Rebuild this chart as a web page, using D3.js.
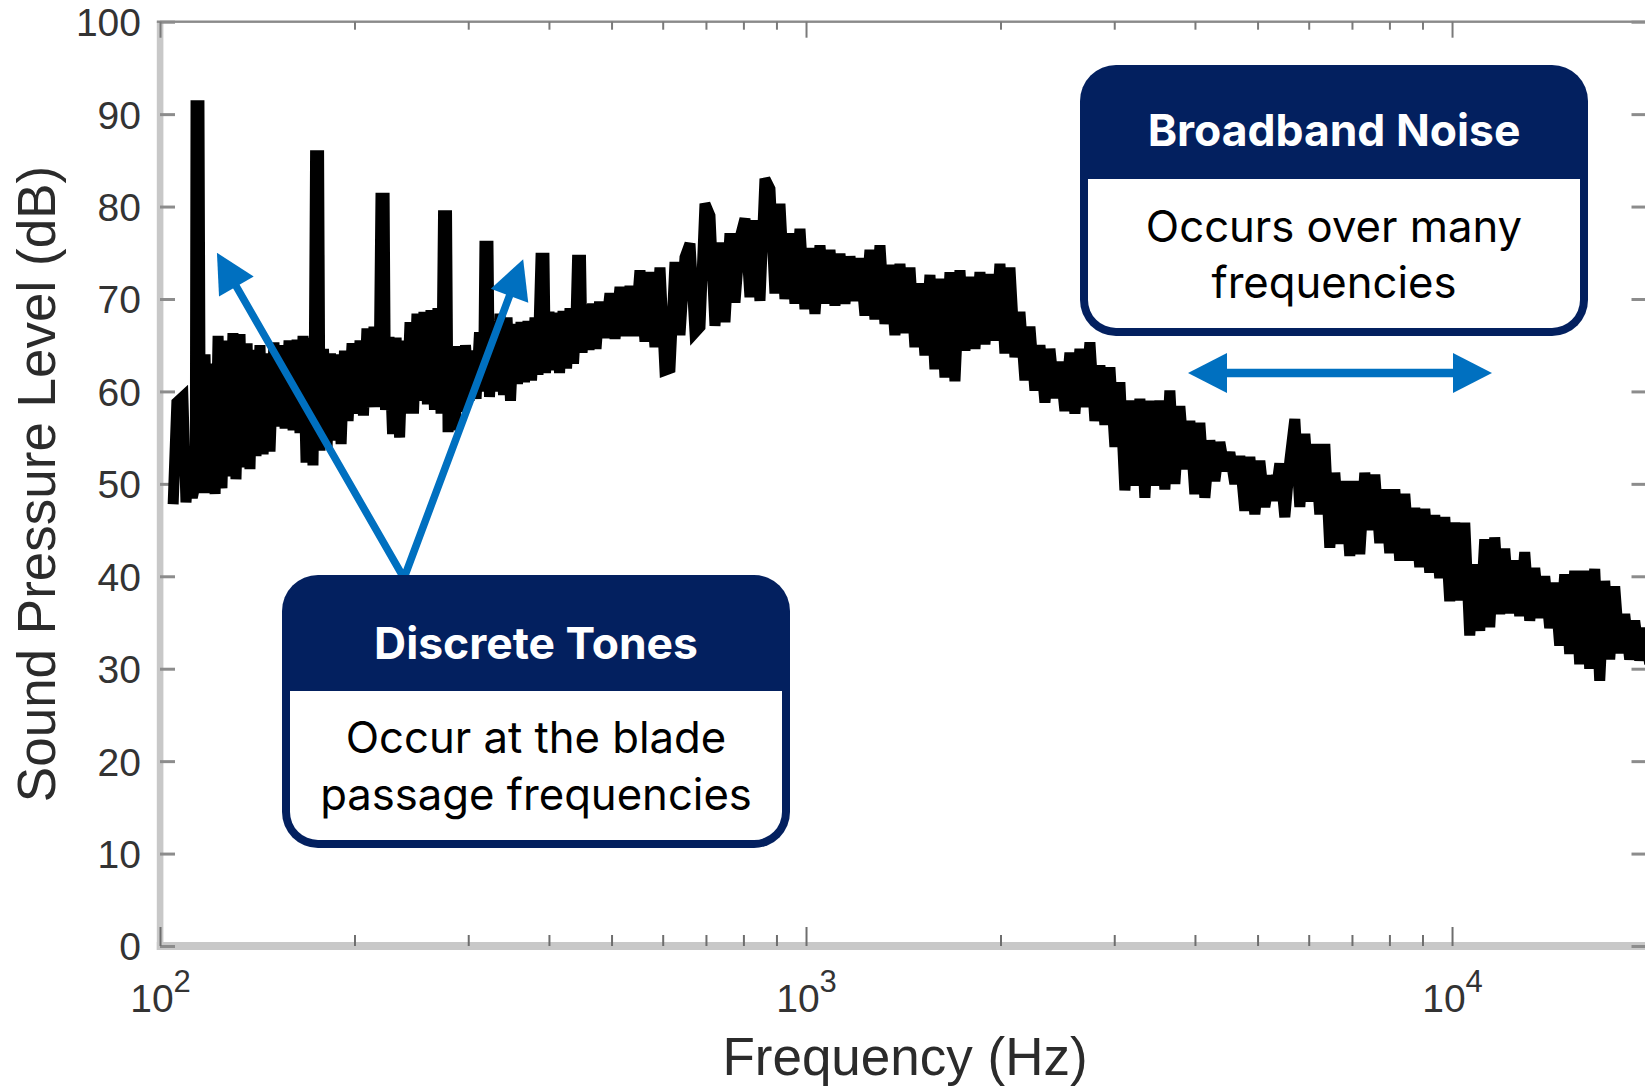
<!DOCTYPE html>
<html><head><meta charset="utf-8">
<script src="https://cdn.jsdelivr.net/npm/d3@7"></script>
<style>html,body{margin:0;padding:0;background:#fff;}svg{display:block;}</style>
</head><body>
<svg id="c" width="1645" height="1088"></svg>
<script>
// ---- data ----
const freqHz = [
104.8,106.2,108.5,109.7,111.3,112.2,113.4,113.7,114.9,115.5,
117.4,118.7,120.4,121.7,123.0,124.7,126.5,127.9,129.7,131.1,
133.0,134.4,136.4,137.8,139.3,140.8,142.8,144.4,146.4,148.0,
150.1,151.8,153.9,156.2,158.4,160.7,163.0,164.7,166.5,168.3,
170.7,172.5,173.2,174.1,176.0,176.9,179.1,181.4,183.6,185.9,
188.3,190.7,193.0,195.5,198.3,201.1,204.0,206.5,209.1,211.8,
214.4,217.1,218.7,219.8,222.3,223.4,226.2,229.1,232.0,234.9,
237.8,240.8,243.8,246.8,249.9,253.1,256.2,259.4,262.7,266.0,
269.3,272.3,273.3,274.7,277.7,279.2,282.7,286.2,289.8,293.5,
297.1,300.9,304.6,308.5,312.3,316.8,318.4,321.9,323.6,327.7,
331.8,336.0,340.2,344.5,348.8,353.2,357.6,362.1,366.6,371.2,
375.9,380.6,384.7,386.7,388.8,393.0,395.1,400.1,405.2,410.2,
415.4,420.6,425.9,431.2,436.6,440.6,442.9,447.7,450.1,455.8,
461.5,467.3,473.1,479.1,
488.4,497.2,506.2,515.3,524.5,534.0,543.6,553.3,563.3,573.4,
583.7,594.2,604.9,615.8,626.9,638.1,649.6,661.3,673.2,685.3,
697.6,710.1,722.9,735.9,749.1,762.6,776.3,790.3,804.5,818.9,
833.6,848.6,863.9,879.4,895.2,911.3,927.7,944.4,961.4,978.7,
996.3,1014.2,1032.4,1051.0,1069.9,1089.1,1108.7,1128.6,1148.9,1169.6,
1190.6,1212.0,1233.8,1256.0,1278.6,1301.6,1325.0,1348.8,1373.0,1397.7,
1422.8,1448.4,1474.4,1500.9,1527.9,1555.4,1583.4,1611.9,1640.9,1670.4,
1700.4,1731.0,1762.1,1793.8,1826.0,1858.8,1892.2,1926.2,1960.8,1996.1,
2032.0,2068.5,2105.7,2143.6,2182.1,2221.3,2261.2,2301.9,2343.3,2385.4,
2428.3,2471.9,2516.3,2561.5,2607.6,2654.5,2702.2,2750.8,2800.2,2850.5,
2901.7,2953.9,3007.0,3061.0,3116.0,3172.0,3229.0,3287.1,3346.2,3406.3,
3467.5,3529.8,3593.2,3657.8,3723.6,3790.5,3858.6,3928.0,3998.6,4070.4,
4143.6,4218.1,4293.9,4371.1,4449.6,4529.6,4611.0,4693.9,4778.3,4864.2,
4951.6,5040.6,5131.2,5223.4,5317.3,5412.9,5510.2,5609.2,5710.0,5812.6,
5917.1,6023.5,6131.8,6242.0,6354.2,6468.4,6584.6,6703.0,6823.5,6946.1,
7071.0,7198.1,7327.5,7459.2,7593.2,7729.7,7868.6,8010.1,8154.0,8300.6,
8449.8,8601.7,8756.3,8913.7,9073.9,9237.0,9403.0,9572.0,9744.1,9919.2,
10097,10279,10464,10652,10843,11038,11236,11438,11644,11853,
12066,12283,12504,12729,12958,13191,13428,13669,13915,14165,
14420,14679,14943,15211,15485,15763,16047,16335,16629,16928,
17232,17542,17857,18178,18505,18837,19176,19521,19872,20229
];
const splDb = [
47.8,58.8,59.4,48.0,54.0,48.5,50.0,90.9,90.9,49.0,
64.0,49.0,63.0,48.9,66.0,49.5,65.5,50.8,66.3,50.5,
66.2,51.8,65.2,51.6,64.5,53.0,65.0,53.2,64.1,53.5,
65.3,56.2,65.0,56.0,65.5,55.8,65.6,55.5,66.0,52.3,
65.8,52.0,60.0,85.5,85.5,53.6,64.6,54.0,64.1,54.7,
64.0,54.3,64.4,56.8,65.2,57.6,65.5,57.4,66.8,58.3,
67.0,58.3,66.0,80.9,80.9,58.0,65.9,55.4,65.8,55.0,
65.5,57.6,67.5,57.6,68.4,59.0,68.6,58.6,68.8,58.0,
69.0,57.6,64.0,79.0,79.0,55.6,64.4,55.8,64.9,57.8,
65.0,59.0,64.4,59.2,66.4,60.0,75.7,75.7,59.4,67.0,
60.0,68.4,59.6,68.0,59.0,67.3,60.8,67.5,61.0,67.6,
61.2,68.0,61.8,68.5,74.4,74.4,62.0,68.6,62.3,68.5,
62.0,68.7,62.5,69.0,63.0,68.0,74.2,74.2,64.2,69.4,
64.5,69.5,64.6,69.7,
65.8,70.6,65.7,71.3,66.0,71.4,66.0,73.1,65.4,72.9,
64.8,73.4,62.3,62.5,74.0,66.1,74.5,76.0,66.4,67.0,
80.3,79.0,67.1,76.1,67.5,77.1,69.6,76.6,78.7,70.2,
78.5,69.8,83.0,81.9,70.6,80.3,70.0,77.1,69.5,77.6,
68.9,75.5,68.4,75.8,69.5,75.3,69.3,74.9,69.5,74.6,
69.8,74.4,68.2,75.3,67.8,75.8,67.3,73.7,66.1,73.8,
66.3,73.4,64.8,71.7,63.9,72.6,62.4,72.2,61.5,72.9,
61.1,73.1,64.4,72.4,64.6,72.9,65.1,72.7,65.5,73.8,
64.1,73.4,63.7,68.6,61.2,67.0,60.1,65.0,58.8,64.6,
59.3,63.2,57.9,64.2,57.6,64.6,58.3,65.3,56.8,62.8,
56.4,62.6,54.0,61.0,49.3,59.0,49.8,59.2,48.5,59.0,
49.8,59.0,49.4,60.1,50.0,58.4,51.6,56.8,48.9,56.6,
48.5,54.7,50.3,54.5,51.4,53.4,50.0,53.0,47.1,52.9,
46.7,52.5,47.5,50.9,48.2,52.2,46.4,52.5,57.0,47.5,
55.4,48.1,54.3,46.7,54.3,43.1,51.2,43.5,50.3,42.2,
50.3,42.4,51.2,45.0,51.0,43.6,49.4,42.5,49.4,41.7,
48.9,41.7,47.4,41.0,47.3,40.4,46.6,39.8,46.4,37.3,
45.8,37.4,45.8,33.6,41.3,34.1,44.0,34.5,44.2,35.9,
43.0,36.0,41.7,35.7,42.6,35.2,40.9,35.5,40.0,34.4,
39.3,32.5,40.2,31.6,40.6,30.5,40.6,30.0,40.8,28.7,
39.5,31.0,38.9,31.7,35.9,31.0,35.2,30.9,34.4,30.5
];
const yTickValues = [0,10,20,30,40,50,60,70,80,90,100];
const xMajorTicks = [100,1000,10000];
const xMinorTicks = [200,300,400,500,600,700,800,900,2000,3000,4000,5000,6000,7000,8000,9000];
const xAxisTitle = "Frequency (Hz)";
const yAxisTitle = "Sound Pressure Level (dB)";
const toneNoteTitle = "Discrete Tones";
const toneNoteLines = ["Occur at the blade", "passage frequencies"];
const broadNoteTitle = "Broadband Noise";
const broadNoteLines = ["Occurs over many", "frequencies"];
const arrowTail = [238.6, 39.8];                 // [Hz, dB]
const arrowTips = [[122.5, 75.0], [364.9, 74.3]]; // [Hz, dB]
const broadbandSpan = [3902, 11530, 62.0];        // [Hz from, Hz to, dB]

// ---- drawing ----
const svg = d3.select("#c");
svg.append("rect").attr("width",1645).attr("height",1088).attr("fill","#fff");

const x = d3.scaleLog().domain([100, 20000]).range([160, 1646.5]);
const y = d3.scaleLinear().domain([0, 100]).range([946, 21.7]);
const NAVY = "#03205f", BLUE = "#0070c0";
const axisFont = "'Liberation Sans', Arial, Helvetica, sans-serif";

// axis frame (MATLAB-like)
svg.append("rect").attr("x",156.8).attr("y",21.7).attr("width",6.6).attr("height",928.3).attr("fill","#c8c8c8");
svg.append("rect").attr("x",156.8).attr("y",942).attr("width",1646-156.8).attr("height",8).attr("fill","#c8c8c8");
svg.append("rect").attr("x",156.8).attr("y",20.5).attr("width",1646-156.8).attr("height",2.4).attr("fill","#8a8a8a");

// left axis with labels
const gy = svg.append("g").attr("transform","translate(160,0)")
  .call(d3.axisLeft(y).tickValues(yTickValues).tickSizeInner(-15).tickSizeOuter(0).tickPadding(19));
gy.select(".domain").remove();
gy.attr("font-size",39).attr("font-family",axisFont);
gy.selectAll(".tick line").attr("stroke","#8c8c8c").attr("stroke-width",3);
gy.selectAll(".tick text").attr("fill","#333").attr("dy","0.358em");

// right axis ticks
const gr = svg.append("g").attr("transform","translate(1646.5,0)")
  .call(d3.axisRight(y).tickValues(yTickValues).tickSizeInner(-15).tickSizeOuter(0).tickFormat(""));
gr.select(".domain").remove();
gr.selectAll(".tick line").attr("stroke","#8c8c8c").attr("stroke-width",3);

// top axis ticks
[[xMinorTicks,-8],[xMajorTicks,-16]].forEach(([vals,len])=>{
  const g = svg.append("g").attr("transform","translate(0,21.7)")
    .call(d3.axisTop(x).tickValues(vals).tickSizeInner(len).tickSizeOuter(0).tickFormat(""));
  g.select(".domain").remove();
  g.selectAll(".tick line").attr("stroke","#7a7a7a").attr("stroke-width",2);
});

// bottom axis
const gbm = svg.append("g").attr("transform","translate(0,946)")
  .call(d3.axisBottom(x).tickValues(xMinorTicks).tickSizeInner(-11).tickSizeOuter(0).tickFormat(""));
gbm.select(".domain").remove();
gbm.selectAll(".tick line").attr("stroke","#6e6e6e").attr("stroke-width",2);

const gb = svg.append("g").attr("transform","translate(0,946)")
  .call(d3.axisBottom(x).tickValues(xMajorTicks).tickSizeInner(-19).tickSizeOuter(0).tickFormat(()=>""));
gb.select(".domain").remove();
gb.attr("font-size",39).attr("font-family",axisFont);
gb.selectAll(".tick line").attr("stroke","#6e6e6e").attr("stroke-width",2);
gb.selectAll(".tick text").each(function(d){
  const t = d3.select(this);
  t.text(null).attr("y",66).attr("dy",null).attr("fill","#333");
  t.append("tspan").text("10");
  t.append("tspan").attr("font-size",31).attr("dy",-20).text(Math.round(Math.log10(d)));
});

// axis titles
svg.append("text").attr("x",905).attr("y",1075).attr("text-anchor","middle")
  .attr("font-family",axisFont).attr("font-size",53).attr("fill","#2b2b2b").text(xAxisTitle);
svg.append("text").attr("transform","translate(55,484) rotate(-90)").attr("text-anchor","middle")
  .attr("font-family",axisFont).attr("font-size",53).attr("fill","#2b2b2b").text(yAxisTitle);

// spectrum line
svg.append("clipPath").attr("id","plotclip").append("rect")
  .attr("x",160).attr("y",21.7).attr("width",1486.5).attr("height",924.3);
const pts = freqHz.map((f,i)=>[f, splDb[i]]);
svg.append("path").datum(pts).attr("clip-path","url(#plotclip)")
  .attr("d", d3.line().x(d=>x(d[0])).y(d=>y(d[1])))
  .attr("fill","none").attr("stroke","#000").attr("stroke-width",11)
  .attr("stroke-linejoin","miter").attr("stroke-miterlimit",4);

// arrows
const HL = 39, HW = 20;
function head(tip, from){
  const dx = tip[0]-from[0], dy = tip[1]-from[1], L = Math.hypot(dx,dy);
  const ux = dx/L, uy = dy/L, nx = -uy, ny = ux;
  const bx = tip[0]-HL*ux, by = tip[1]-HL*uy;
  return {poly:[[tip[0],tip[1]],[bx+HW*nx,by+HW*ny],[bx-HW*nx,by-HW*ny]], base:[tip[0]-(HL-6)*ux, tip[1]-(HL-6)*uy]};
}
const tailP = [x(arrowTail[0]), y(arrowTail[1])];
const tipsP = arrowTips.map(d=>[x(d[0]), y(d[1])]);
const h1 = head(tipsP[0], tailP), h2 = head(tipsP[1], tailP);
svg.append("path").attr("d", d3.line()([h1.base, tailP, h2.base]))
  .attr("fill","none").attr("stroke",BLUE).attr("stroke-width",7.5).attr("stroke-linejoin","miter").attr("stroke-miterlimit",10);
[h1,h2].forEach(h=>svg.append("path").attr("d", d3.line()(h.poly)+"Z").attr("fill",BLUE));

const la = [x(broadbandSpan[0]), y(broadbandSpan[2])], ra = [x(broadbandSpan[1]), y(broadbandSpan[2])];
const hl = head(la, ra), hr = head(ra, la);
svg.append("path").attr("d", d3.line()([hl.base, hr.base])).attr("stroke",BLUE).attr("stroke-width",8.5).attr("fill","none");
[hl,hr].forEach(h=>svg.append("path").attr("d", d3.line()(h.poly)+"Z").attr("fill",BLUE));

// annotation boxes
function box(x0,y0,w,h,hh){
  const b = 8, r = 36, ri = 28;
  svg.append("rect").attr("x",x0).attr("y",y0).attr("width",w).attr("height",h).attr("rx",r).attr("fill",NAVY);
  const p = `M${x0+b},${y0+hh}H${x0+w-b}V${y0+h-b-ri}A${ri},${ri} 0 0 1 ${x0+w-b-ri},${y0+h-b}H${x0+b+ri}A${ri},${ri} 0 0 1 ${x0+b},${y0+h-b-ri}Z`;
  svg.append("path").attr("d",p).attr("fill","#fff");
}
box(282,575,508,273,116);
box(1080,65,508,271,114);

const noteFont = "Inter, 'Noto Sans', 'Open Sans', sans-serif";
const heads = [
  svg.append("text").attr("x",536).attr("y",659).text(toneNoteTitle).datum(322),
  svg.append("text").attr("x",1334).attr("y",146).text(broadNoteTitle).datum(375)
];
const bodies = [
  svg.append("text").attr("x",536).attr("y",753).text(toneNoteLines[0]).datum(383),
  svg.append("text").attr("x",536).attr("y",810).text(toneNoteLines[1]).datum(429),
  svg.append("text").attr("x",1334).attr("y",242).text(broadNoteLines[0]).datum(375),
  svg.append("text").attr("x",1334).attr("y",298).text(broadNoteLines[1]).datum(246)
];
heads.forEach(t=>t.attr("fill","#fff").attr("font-weight",700));
bodies.forEach(t=>t.attr("fill","#000").attr("font-weight",400));
function fit(list){
  list.forEach(t=>t.attr("text-anchor","middle").attr("font-family",noteFont).attr("font-size",100));
  const k = d3.mean(list, t=>t.datum()/t.node().getComputedTextLength());
  list.forEach(t=>t.attr("font-size",(100*k).toFixed(2)));
}
fit(heads); fit(bodies);
</script>
</body></html>
